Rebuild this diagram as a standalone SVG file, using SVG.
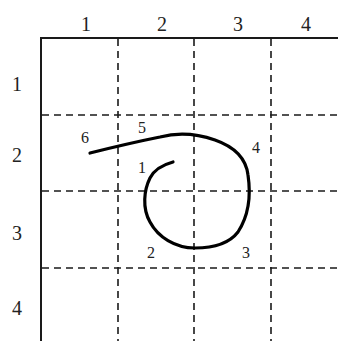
<svg xmlns="http://www.w3.org/2000/svg" width="338" height="341" viewBox="0 0 338 341">
<style>
.solid{stroke:#1a1a1a;stroke-width:2;fill:none}
.dash{stroke:#1a1a1a;stroke-width:1.6;stroke-dasharray:7 5;fill:none}
.big{font-family:"Liberation Serif",serif;font-size:20px;fill:#222;text-anchor:middle}
.small{font-family:"Liberation Serif",serif;font-size:16px;fill:#222;text-anchor:middle}
.curve{stroke:#000;stroke-width:3.2;fill:none;stroke-linecap:round;stroke-linejoin:round}
</style>
<rect width="338" height="341" fill="#fff"/>
<g id="grid">
<line class="dash" x1="118" y1="39" x2="118" y2="341"/>
<line class="dash" x1="194" y1="39" x2="194" y2="341"/>
<line class="dash" x1="271" y1="39" x2="271" y2="341"/>
<line class="dash" x1="42" y1="115" x2="338" y2="115"/>
<line class="dash" x1="42" y1="191" x2="338" y2="191"/>
<line class="dash" x1="42" y1="268" x2="338" y2="268"/>
<line class="solid" x1="41" y1="38" x2="338" y2="38"/>
<line class="solid" x1="41" y1="37" x2="41" y2="341"/>
</g>
<g id="axis-labels">
<text class="big" x="86" y="31">1</text>
<text class="big" x="162" y="31">2</text>
<text class="big" x="238" y="31">3</text>
<text class="big" x="306" y="31">4</text>
<text class="big" x="17" y="91">1</text>
<text class="big" x="17" y="162">2</text>
<text class="big" x="17" y="240">3</text>
<text class="big" x="17" y="315">4</text>
</g>
<g id="connectors">
<path class="curve" d="M90,153 C110,148 140,141 160,137 C175,133 195,133 215,140 C235,147 246,158 248,175 C251,195 249,215 238,232 C228,245 210,248 195,248 C175,248 158,237 150,222 C142,208 144,190 150,178 C154,170 162,165 173,162"/>
</g>
<g id="point-labels">
<text class="small" x="85" y="143">6</text>
<text class="small" x="142" y="133">5</text>
<text class="small" x="256" y="153">4</text>
<text class="small" x="142" y="173">1</text>
<text class="small" x="151" y="258">2</text>
<text class="small" x="246" y="258">3</text>
</g>
</svg>
